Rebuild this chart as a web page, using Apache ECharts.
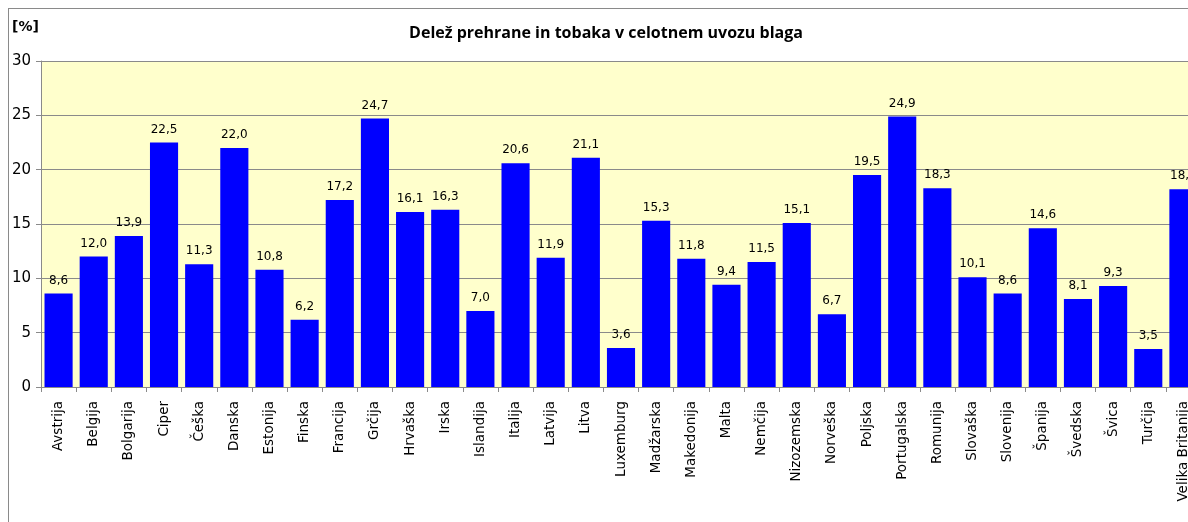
<!DOCTYPE html>
<html>
<head>
<meta charset="utf-8">
<script src="https://cdn.jsdelivr.net/npm/echarts@6/dist/echarts.min.js"></script>
<style>
  html, body { margin: 0; padding: 0; background: #fff; overflow: hidden; }
  #frame { position: absolute; left: 8px; top: 8px; width: 1300px; height: 600px; border: 1px solid #8a8a8a; }
  #main { position: absolute; left: 0; top: 0; width: 1210px; height: 522px; }
</style>
</head>
<body>
<div id="frame"></div>
<div id="main"></div>
<script>
var countries = ['Avstrija', 'Belgija', 'Bolgarija', 'Ciper', 'Češka', 'Danska', 'Estonija', 'Finska',
    'Francija', 'Grčija', 'Hrvaška', 'Irska', 'Islandija', 'Italija', 'Latvija', 'Litva', 'Luxemburg',
    'Madžarska', 'Makedonija', 'Malta', 'Nemčija', 'Nizozemska', 'Norveška', 'Poljska', 'Portugalska',
    'Romunija', 'Slovaška', 'Slovenija', 'Španija', 'Švedska', 'Švica', 'Turčija', 'Velika Britanija'];
var share = [8.6, 12.0, 13.9, 22.5, 11.3, 22.0, 10.8, 6.2,
    17.2, 24.7, 16.1, 16.3, 7.0, 20.6, 11.9, 21.1, 3.6,
    15.3, 11.8, 9.4, 11.5, 15.1, 6.7, 19.5, 24.9,
    18.3, 10.1, 8.6, 14.6, 8.1, 9.3, 3.5, 18.2];
var yTicks = [0, 5, 10, 15, 20, 25, 30];

var font = 'Verdana, "DejaVu Sans", sans-serif';
var dom = document.getElementById('main');
var myChart = echarts.init(dom);

function comma(v) {
    return Number(v).toFixed(1).replace('.', ',');
}

var option = {
    animation: false,
    title: {
        text: 'Delež prehrane in tobaka v celotnem uvozu blaga',
        left: 601,
        top: 20,
        textAlign: 'center',
        textStyle: { fontFamily: '"Open Sans", sans-serif', fontSize: 16, fontWeight: 'bold', color: '#000' }
    },
    graphic: [{
        type: 'text',
        left: 12,
        top: 20,
        style: { text: '[%]', font: 'bold 14px ' + font, fill: '#000' }
    }],
    grid: {
        left: 41,
        top: 61,
        width: 1160,
        height: 326,
        show: true,
        backgroundColor: '#ffffcc',
        borderWidth: 0
    },
    xAxis: {
        type: 'category',
        data: countries,
        axisLine: { show: true, lineStyle: { color: '#8a8a8a', width: 1 } },
        axisTick: { show: true, length: 5, lineStyle: { color: '#8a8a8a' } },
        axisLabel: {
            rotate: 90,
            interval: 0,
            margin: 14,
            fontFamily: font,
            fontSize: 13.5,
            color: '#000'
        }
    },
    yAxis: {
        type: 'value',
        min: 0,
        max: 30,
        interval: 5,
        axisLine: { show: true, lineStyle: { color: '#8a8a8a', width: 1 } },
        axisTick: { show: true, length: 5, lineStyle: { color: '#8a8a8a' } },
        axisLabel: {
            margin: 10,
            fontFamily: font,
            fontSize: 15,
            color: '#000',
            formatter: function (v) { return yTicks.indexOf(v) >= 0 ? String(v) : ''; }
        },
        splitLine: { show: true, lineStyle: { color: '#8a8a8a', width: 1 } }
    },
    series: [{
        type: 'bar',
        data: share,
        barCategoryGap: '20%',
        itemStyle: { color: '#0000ff' },
        label: {
            show: true,
            position: 'top',
            distance: 7,
            fontFamily: font,
            fontSize: 12,
            color: '#000',
            formatter: function (p) { return comma(p.value); }
        }
    }]
};

myChart.setOption(option);
</script>
</body>
</html>
